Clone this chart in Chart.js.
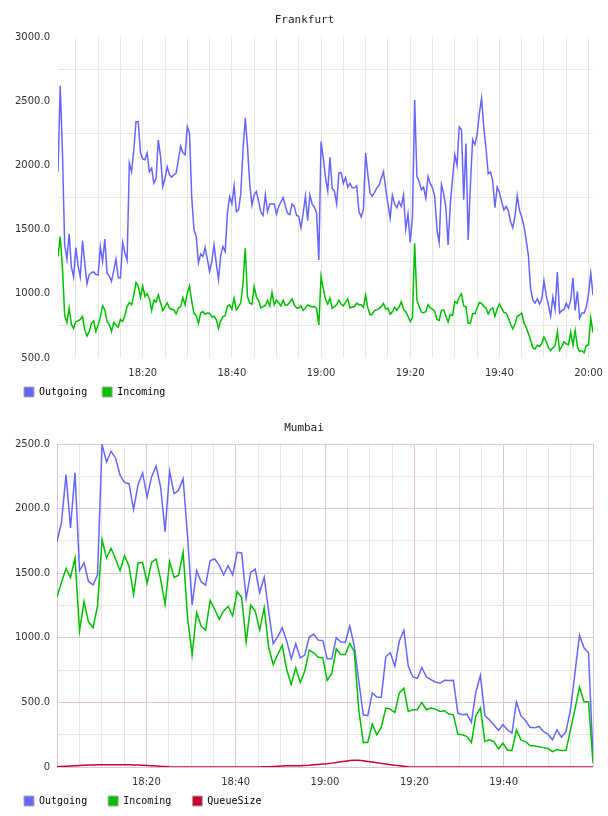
<!DOCTYPE html>
<html><head><meta charset="utf-8">
<script src="https://cdn.jsdelivr.net/npm/chart.js@4.4.1/dist/chart.umd.min.js"></script>
<style>
html,body{margin:0;padding:0;background:#fff;}
.box{position:absolute;left:0;width:608px;height:408px;}
#b1{top:0}
#b2{top:408px}
canvas{display:block}
</style></head><body>
<div class="box" id="b1"><canvas id="c1" width="608" height="408"></canvas></div>
<div class="box" id="b2"><canvas id="c2" width="608" height="408"></canvas></div>
<script>
// ---------- DATA ----------
const FRA_TITLE = 'Frankfurt';
const MUM_TITLE = 'Mumbai';
const SERIES_NAMES = ['Outgoing', 'Incoming', 'QueueSize'];

// minutes after 18:00
const FRA_START_MIN = 1;
const FRA_STEP_MIN = 0.5;
const MUM_START_MIN = 0;
const MUM_STEP_MIN = 120 / 119;

const FRA_TIME_LABELS = ['18:20', '18:40', '19:00', '19:20', '19:40', '20:00'];
const MUM_TIME_LABELS = ['18:20', '18:40', '19:00', '19:20', '19:40'];
const FRA_Y_LABELS = ['500.0', '1000.0', '1500.0', '2000.0', '2500.0', '3000.0'];
const MUM_Y_LABELS = ['0', '500.0', '1000.0', '1500.0', '2000.0', '2500.0'];

const FRA_OUTGOING = [
1950,2620,2100,1380,1270,1467,1210,1130,1360,1220,
1130,1415,1240,1078,1150,1165,1170,1150,1148,1368,
1252,1426,1161,1140,1096,1180,1270,1127,1122,1400,
1320,1260,2018,1950,2120,2340,2340,2100,2050,2044,
2096,1950,1979,1862,1900,2199,2070,1836,1900,1990,
1927,1909,1927,1940,2044,2150,2100,2083,2303,2250,
1750,1500,1446,1240,1310,1291,1360,1270,1174,1250,
1380,1239,1110,1300,1368,1329,1630,1758,1700,1840,
1640,1654,1780,2122,2368,2148,1862,1690,1770,1797,
1720,1635,1610,1770,1640,1700,1700,1700,1620,1680,
1715,1750,1680,1625,1617,1700,1680,1612,1602,1515,
1630,1760,1570,1770,1700,1675,1630,1264,2186,2060,
1905,1800,2064,1820,1800,1700,1940,1945,1860,1905,
1830,1860,1825,1825,1841,1640,1600,1654,2096,1927,
1784,1760,1790,1823,1845,1900,1950,1820,1700,1590,
1768,1700,1670,1719,1680,1771,1505,1620,1400,1600,
2511,1914,1875,1810,1830,1745,1915,1860,1823,1760,
1500,1400,1850,1780,1670,1380,1700,1900,2083,2000,
2300,2280,1732,2170,1420,1850,2200,2161,2240,2400,
2524,2300,2130,1935,1950,1880,1670,1830,1790,1720,
1654,1680,1650,1563,1515,1600,1765,1650,1600,1530,
1420,1300,1040,950,927,960,920,955,1100,985,
914,826,975,880,1170,850,870,877,925,890,
950,1125,870,1020,810,850,850,896,1000,1161,
990
];
const FRA_INCOMING = [
1290,1446,1200,830,777,890,760,730,784,790,
800,823,719,670,706,770,790,706,760,820,
906,875,784,760,706,777,755,740,800,784,
830,900,932,915,990,1088,1060,970,1060,979,
1000,960,870,950,935,992,930,870,901,930,
890,880,875,845,888,900,970,914,1005,1062,
940,850,830,770,850,862,840,850,849,818,
825,797,730,790,823,830,903,914,880,965,
875,901,930,1083,1355,979,927,920,1057,975,
948,890,900,910,950,905,1010,914,950,930,
905,950,910,914,935,960,914,890,890,906,
870,890,914,905,900,901,885,758,1135,1040,
960,920,966,888,900,914,950,920,906,935,
960,888,898,901,927,915,914,895,990,890,
836,840,870,875,885,900,925,880,888,840,
860,895,870,898,938,880,860,825,784,815,
1394,953,900,857,852,862,915,890,880,865,
800,792,870,875,825,780,840,830,940,927,
975,1000,905,900,771,770,844,845,890,932,
925,902,890,842,880,890,825,880,920,888,
855,852,815,765,727,765,825,835,850,775,
740,690,640,580,570,600,590,612,662,630,
580,560,580,595,706,560,590,626,610,604,
700,600,715,588,550,558,540,598,602,810,
698
];

const MUM_OUTGOING = [
1744,1895,2263,1851,2278,1519,1579,1436,1410,1488,
2496,2361,2444,2392,2258,2201,2193,1993,2185,2276,
2089,2245,2330,2167,1822,2289,2115,2141,2232,1780,
1255,1519,1433,1407,1597,1610,1563,1488,1558,1486,
1662,1657,1304,1506,1532,1350,1467,1200,954,1008,
1078,975,837,954,845,866,1006,1029,982,980,
837,837,1001,967,964,1091,936,664,404,397,
573,542,539,853,884,780,975,1058,780,697,
687,770,697,677,658,648,671,669,671,417,
404,409,347,581,708,397,365,327,282,327,
288,262,503,397,360,308,303,314,275,254,
210,288,231,275,443,728,1021,923,884,80
];
const MUM_INCOMING = [
1317,1428,1537,1467,1617,1052,1280,1122,1078,1247,
1760,1617,1693,1610,1519,1636,1553,1337,1579,1584,
1423,1584,1610,1454,1260,1589,1467,1485,1662,1150,
871,1195,1091,1058,1290,1221,1143,1208,1242,1169,
1358,1311,967,1252,1208,1060,1234,923,793,871,
941,754,638,767,655,741,905,884,850,845,
671,723,915,871,871,956,892,443,189,192,
334,249,308,456,448,422,573,609,430,443,
443,500,443,456,448,430,436,410,404,254,
249,236,189,397,456,197,210,197,140,184,
132,127,288,210,197,166,163,156,150,143,
119,135,127,127,288,448,619,505,505,29
];
const MUM_QUEUE = [
2,4,6,8,10,12,14,15,16,17,
18,18,18,18,18,17,17,16,15,14,
12,10,8,5,3,1,0,0,0,0,
0,0,0,0,0,0,0,0,0,0,
0,0,0,0,0,0,1,2,4,6,
8,9,10,10,10,12,14,17,20,23,
26,30,34,40,45,50,53,52,48,43,
38,33,28,23,18,13,9,5,2,0,
0,0,0,0,0,0,0,0,0,0,
0,0,0,0,0,0,0,0,0,0,
0,0,0,0,0,0,0,0,0,0,
0,0,0,0,0,0,0,0,0,0
];

// ---------- STYLE ----------
const OUT_COLOR = '#6666ff';
const IN_COLOR = '#00bf00';
const Q_COLOR = '#c80032';
const GRID_GRAY = '#e6e6e6';
const GRID_PURPLE = '#dcc4dc';
const TEXT_COLOR = '#333';
const MONO = "'DejaVu Sans Mono', monospace";
const SANS = "'DejaVu Sans', sans-serif";

function hhmm(m) {
  const t = Math.round(m);
  const h = 18 + Math.floor(t / 60);
  const mm = t % 60;
  return h + ':' + String(mm).padStart(2, '0');
}
function pts(values, start, step) {
  return values.map((v, i) => ({ x: start + i * step, y: v }));
}
function lineDs(label, values, color, start, step, order) {
  return {
    label, data: pts(values, start, step),
    borderColor: color, backgroundColor: color,
    borderWidth: 1.5, pointRadius: 0, tension: 0, fill: false, order
  };
}
function yLabel(list, v) {
  const f = list.find(s => parseFloat(s) === v);
  return f === undefined ? '' : f;
}

function buildChart(id, o) {
  return new Chart(document.getElementById(id), {
    type: 'line',
    data: { datasets: o.datasets },
    plugins: [{
      id: 'legendPlace',
      afterLayout(chart) {
        const lg = chart.legend;
        if (lg) { lg.top = o.legendTop; lg.height = 408 - o.legendTop; lg.bottom = 408; }
      }
    }],
    options: {
      responsive: false, animation: false, devicePixelRatio: 1, events: [],
      layout: { padding: o.padding },
      plugins: {
        tooltip: { enabled: false },
        title: {
          display: true, text: o.title, color: '#222',
          font: { family: MONO, size: 11, weight: 'normal' },
          padding: { top: 13.4, bottom: o.titleBottom }
        },
        legend: {
          display: true, position: 'bottom', align: 'start', maxHeight: o.legendMaxH,
          labels: {
            boxWidth: 10, boxHeight: 10, padding: o.legendPad, color: '#222',
            font: { family: MONO, size: 10 },
            generateLabels: (chart) => chart.data.datasets.map((d, i) => ({
              text: d.label, fillStyle: d.backgroundColor, strokeStyle: '#aaaaaa',
              lineWidth: 1, hidden: false, datasetIndex: i
            }))
          }
        }
      },
      scales: {
        x: {
          type: 'linear', min: o.xMin, max: o.xMax,
          afterBuildTicks: (s) => {
            const t = [];
            for (let v = Math.ceil(o.xMin / 5) * 5; v <= o.xMax; v += 5) t.push({ value: v });
            s.ticks = t;
          },
          ticks: {
            autoSkip: false, maxRotation: 0, minRotation: 0, padding: 9, color: TEXT_COLOR,
            font: { family: SANS, size: 10 },
            callback: (v) => { const s = hhmm(v); return o.timeLabels.includes(s) ? s : ''; }
          },
          grid: { drawTicks: false, lineWidth: 1, color: o.xGridColor },
          border: { display: false },
          afterFit: (s) => { s.height = 21; s.paddingLeft = 0; s.paddingRight = 15; }
        },
        y: {
          type: 'linear', min: o.yMin, max: o.yMax,
          afterBuildTicks: (s) => {
            const t = [];
            for (let v = o.yMin; v <= o.yMax; v += 250) t.push({ value: v });
            s.ticks = t;
          },
          ticks: {
            padding: o.yPad, color: TEXT_COLOR, font: { family: SANS, size: 10 },
            callback: (v) => yLabel(o.yLabels, v)
          },
          grid: { drawTicks: false, lineWidth: 1, color: o.yGridColor },
          border: { display: false },
          afterFit: (s) => { s.width = o.yAxisW; }
        }
      }
    }
  });
}

buildChart('c1', {
  title: FRA_TITLE, titleBottom: 10.4,
  padding: { left: 9, right: 8, top: 0, bottom: 0 },
  legendPad: 15, legendMaxH: 29, legendTop: 372, yAxisW: 49, yPad: 8,
  xMin: FRA_START_MIN, xMax: FRA_START_MIN + 120,
  yMin: 500, yMax: 3000,
  timeLabels: FRA_TIME_LABELS, yLabels: FRA_Y_LABELS,
  xGridColor: GRID_GRAY,
  yGridColor: (c) => (c.tick && c.tick.value % 500 === 0) ? 'rgba(0,0,0,0)' : GRID_GRAY,
  datasets: [
    lineDs(SERIES_NAMES[0], FRA_OUTGOING, OUT_COLOR, FRA_START_MIN, FRA_STEP_MIN, 2),
    lineDs(SERIES_NAMES[1], FRA_INCOMING, IN_COLOR, FRA_START_MIN, FRA_STEP_MIN, 1)
  ]
});

buildChart('c2', {
  title: MUM_TITLE, titleBottom: 9.4,
  padding: { left: 3, right: 3, top: 0, bottom: 0 },
  legendPad: 21, legendMaxH: 28, legendTop: 367, yAxisW: 54, yPad: 7,
  xMin: MUM_START_MIN, xMax: MUM_START_MIN + 120,
  yMin: 0, yMax: 2500,
  timeLabels: MUM_TIME_LABELS, yLabels: MUM_Y_LABELS,
  xGridColor: (c) => (c.tick && c.tick.value % 20 === 0) ? GRID_PURPLE : GRID_GRAY,
  yGridColor: (c) => (c.tick && c.tick.value % 500 === 0) ? GRID_PURPLE : GRID_GRAY,
  datasets: [
    lineDs(SERIES_NAMES[0], MUM_OUTGOING, OUT_COLOR, MUM_START_MIN, MUM_STEP_MIN, 3),
    lineDs(SERIES_NAMES[1], MUM_INCOMING, IN_COLOR, MUM_START_MIN, MUM_STEP_MIN, 2),
    lineDs(SERIES_NAMES[2], MUM_QUEUE, Q_COLOR, MUM_START_MIN, MUM_STEP_MIN, 1)
  ]
});
</script>
</body></html>
